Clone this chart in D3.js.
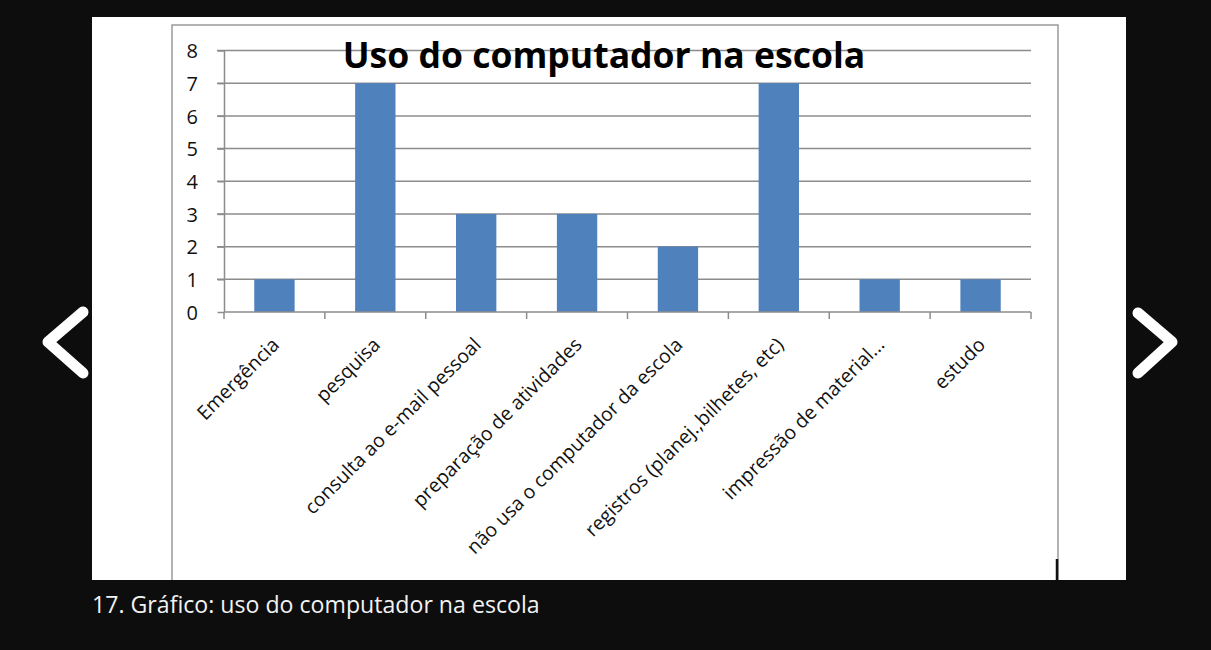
<!DOCTYPE html>
<html><head><meta charset="utf-8">
<script src="https://cdn.jsdelivr.net/npm/d3@7/dist/d3.min.js"></script>
<style>
html,body{margin:0;padding:0;background:#0d0d0d;}
svg{display:block;}
</style></head>
<body>
<svg id="c" width="1211" height="650"></svg>
<script>
const title = "Uso do computador na escola";
const caption = "17. Gráfico: uso do computador na escola";
const categories = ["Emergência","pesquisa","consulta ao e-mail pessoal","preparação de atividades","não usa o computador da escola","registros (planej.,bilhetes, etc)","impressão de material...","estudo"];
const values = [1,7,3,3,2,7,1,1];
const yTicks = [0,1,2,3,4,5,6,7,8];

const svg = d3.select("#c");
const font = "'Open Sans', 'Noto Sans', sans-serif";

// background
svg.append("rect").attr("width",1211).attr("height",650).attr("fill","#0d0d0d");
// white panel
svg.append("rect").attr("x",92).attr("y",17).attr("width",1034).attr("height",563).attr("fill","#ffffff");
// chart frame (clipped by panel bottom)
svg.append("path").attr("d","M172,580 V25 H1058 V580").attr("fill","none").attr("stroke","#9a9a9a").attr("stroke-width",1.5);
svg.append("line").attr("x1",1057).attr("x2",1057).attr("y1",559).attr("y2",580).attr("stroke","#111").attr("stroke-width",2.5);

const x = d3.scaleBand().domain(categories).range([224,1031]).paddingInner(0.6).paddingOuter(0.3);
const y = d3.scaleLinear().domain([0,8]).range([312,50.5]);

const g = svg.append("g");
// gridlines
g.selectAll("line.grid").data(yTicks.filter(d=>d>0)).join("line")
  .attr("x1",217).attr("x2",1031).attr("y1",d=>y(d)).attr("y2",d=>y(d))
  .attr("stroke","#8c8c8c").attr("stroke-width",1.5);

// bars
g.selectAll("rect.bar").data(values).join("rect")
  .attr("x",(d,i)=>x(categories[i])).attr("width",x.bandwidth())
  .attr("y",d=>y(d)).attr("height",d=>y(0)-y(d)).attr("fill","#4f81bd");

// y axis
const yAxis = d3.axisLeft(y).tickValues(yTicks).tickSize(7).tickFormat(d3.format("d"));
const ya = g.append("g").attr("transform","translate(224.5,0)").call(yAxis);
ya.attr("font-size",null).attr("font-family",null);
ya.select(".domain").attr("stroke","#8c8c8c").attr("stroke-width",1.5).attr("d","M0,"+y(8)+"V"+y(0));
ya.selectAll(".tick line").attr("stroke","#8c8c8c").attr("stroke-width",1.5);
ya.selectAll(".tick text").attr("x",-26.5).attr("dy","0.36em").style("font-family",font).style("font-size","20px").attr("fill","#111");

// x axis
const step = x.step();
const xa = g.append("g").attr("transform","translate(0,312)");
xa.append("line").attr("x1",224).attr("x2",1031).attr("y1",0).attr("y2",0).attr("stroke","#8c8c8c").attr("stroke-width",1.5);
const bounds = d3.range(categories.length+1).map(i=>224+i*step);
xa.selectAll("line.t").data(bounds).join("line")
  .attr("x1",d=>d).attr("x2",d=>d).attr("y1",0).attr("y2",7).attr("stroke","#8c8c8c").attr("stroke-width",1.5);
xa.selectAll("text").data(categories).join("text")
  .attr("transform",d=>`translate(${x(d)+x.bandwidth()/2+6},34) rotate(-45)`)
  .attr("text-anchor","end").style("font-family",font).style("font-size","19.5px").attr("fill","#111").text(d=>d);

// title
const t = svg.append("text").attr("x",604).attr("y",68).attr("text-anchor","middle")
  .attr("font-family",font).attr("font-weight","bold").attr("font-size",32).attr("fill","#000").text(title);
const tw = t.node().getComputedTextLength();
t.attr("font-size",32*523/tw);

// caption
const c = svg.append("text").attr("x",92).attr("y",613).attr("font-family",font).attr("font-size",18).attr("fill","#f2f2f2").text(caption);
const cw = c.node().getComputedTextLength();
c.attr("font-size",18*448/cw);

// arrows
const arrow = d3.line();
svg.append("path").attr("d",arrow([[83,312],[48,342],[83,373]])).attr("fill","none").attr("stroke","#fff").attr("stroke-width",11).attr("stroke-linecap","round").attr("stroke-linejoin","round");
svg.append("path").attr("d",arrow([[1138,313],[1172,342],[1138,373]])).attr("fill","none").attr("stroke","#fff").attr("stroke-width",11).attr("stroke-linecap","round").attr("stroke-linejoin","round");
</script>
</body></html>
